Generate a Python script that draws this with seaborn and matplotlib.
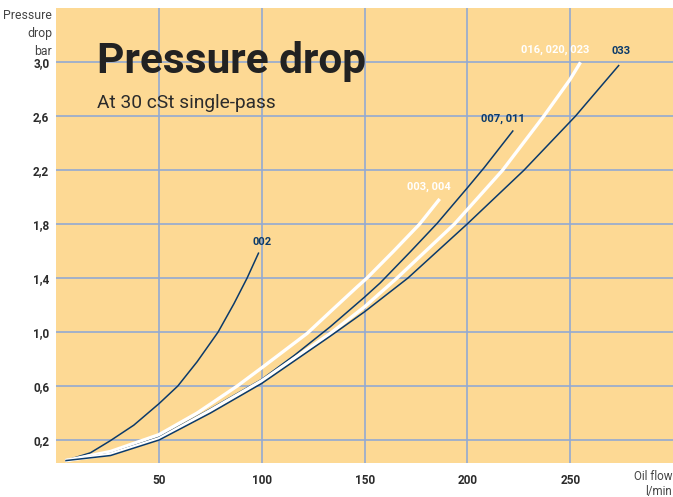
import matplotlib
matplotlib.use("Agg")
import matplotlib.pyplot as plt
import seaborn as sns
import pandas as pd

# ---- data ----
flow_002 = [4.4, 16.6, 26.3, 37.7, 50, 59.1, 68.5, 78.7, 86.4, 92.8, 98.5]
dp_002 = [0.047, 0.105, 0.195, 0.31, 0.47, 0.60, 0.78, 1.0, 1.21, 1.40, 1.59]

flow_003 = [4.4, 26.4, 50, 68.5, 88, 100, 122, 133.3, 146.4, 151.1, 164.1, 176.7, 186.5]
dp_003 = [0.047, 0.115, 0.24, 0.40, 0.60, 0.736, 0.99, 1.151, 1.336, 1.40, 1.60, 1.80, 1.987]

flow_007 = [4.4, 26.4, 50, 75, 100, 116, 133.3, 150, 157.6, 172.2, 185.2, 200, 208.2, 222.3]
dp_007 = [0.047, 0.10, 0.22, 0.43, 0.65, 0.83, 1.04, 1.26, 1.365, 1.595, 1.805, 2.07, 2.22, 2.495]

flow_016 = [4.4, 26.4, 50, 75, 100, 133.3, 150, 165.7, 193.6, 217.1, 237.1, 249.8, 255]
dp_016 = [0.047, 0.095, 0.21, 0.42, 0.64, 0.99, 1.188, 1.40, 1.80, 2.20, 2.60, 2.87, 3.0]

flow_033 = [4.4, 26.4, 50, 75, 100, 133.3, 150, 171, 199.8, 227.5, 252.5, 273.8]
dp_033 = [0.047, 0.085, 0.20, 0.40, 0.62, 0.97, 1.151, 1.40, 1.80, 2.20, 2.60, 2.98]

series_names = ["002", "003, 004", "007, 011", "016, 020, 023", "033"]
x_ticks = [50, 100, 150, 200, 250]
y_ticks = [0.2, 0.6, 1.0, 1.4, 1.8, 2.2, 2.6, 3.0]
y_tick_labels = ["0,2", "0,6", "1,0", "1,4", "1,8", "2,2", "2,6", "3,0"]

# ---- style ----
BG = "#FDD994"
GRID = "#93A9D2"
NAVY = "#0B3A6A"
WHITE = "#FFFFFF"
TXT = "#2B2B2B"

sns.set_theme(style="white")
plt.rcParams["font.family"] = ["Roboto", "DejaVu Sans"]

fig = plt.figure(figsize=(6.73, 4.97), dpi=100)
ax = fig.add_axes([56.3 / 673, 1 - 462.7 / 497, (673 - 56.3) / 673, (462.7 - 8) / 497])
ax.set_facecolor(BG)

curves = [
    (flow_002, dp_002, NAVY, 1.1),
    (flow_003, dp_003, WHITE, 2.4),
    (flow_007, dp_007, NAVY, 1.1),
    (flow_016, dp_016, WHITE, 2.4),
    (flow_033, dp_033, NAVY, 1.1),
]
for (xs, ys, c, lw), name in zip(curves, series_names):
    df = pd.DataFrame({"flow": xs, "dp": ys})
    sns.lineplot(data=df, x="flow", y="dp", color=c, lw=lw, sort=False,
                 estimator=None, ax=ax, zorder=3)
for line in ax.lines:
    line.set_solid_joinstyle("round")
    line.set_solid_capstyle("butt")

ax.set_xlim(0, 300)
ax.set_ylim(0.0317, 3.4025)
ax.set_xticks(x_ticks)
ax.set_yticks(y_ticks)
ax.set_yticklabels(y_tick_labels)
ax.grid(True, color=GRID, lw=1.2, zorder=0)
ax.set_axisbelow(True)
for s in ax.spines.values():
    s.set_visible(False)
ax.tick_params(axis="both", length=0, labelsize=8.5, labelcolor=TXT)
for lab in ax.get_xticklabels() + ax.get_yticklabels():
    lab.set_fontweight("bold")
ax.tick_params(axis="x", pad=8)
ax.tick_params(axis="y", pad=5)
ax.set_xlabel("")
ax.set_ylabel("")

# curve labels
lab_kw = dict(fontsize=8, fontweight="bold", ha="center", va="center")
ax.text(100.2, 1.668, "002", color=NAVY, **lab_kw)
ax.text(181.0, 2.075, "003, 004", color=WHITE, **lab_kw)
ax.text(217.5, 2.58, "007, 011", color=NAVY, **lab_kw)
ax.text(242.8, 3.09, "016, 020, 023", color=WHITE, **lab_kw)
ax.text(274.9, 3.085, "033", color=NAVY, **lab_kw)

# title and subtitle
fig.text(97 / 673, 1 - 73 / 497, "Pressure drop", fontsize=30.5, fontweight="bold",
         color="#222222", ha="left", va="baseline")
fig.text(97 / 673, 1 - 107.5 / 497, "At 30 cSt single-pass", fontsize=13.8,
         color="#2B2B2B", ha="left", va="baseline")

# axis captions
fig.text(52 / 673, 1 - 9 / 497, "Pressure\ndrop\nbar", fontsize=8.8, color="#444444",
         ha="right", va="top", linespacing=1.5)
fig.text(672 / 673, 1 - 470 / 497, "Oil flow\nl/min", fontsize=8.4, color="#444444",
         ha="right", va="top", linespacing=1.2)

fig.savefig("out.png", dpi=100, facecolor="white")
